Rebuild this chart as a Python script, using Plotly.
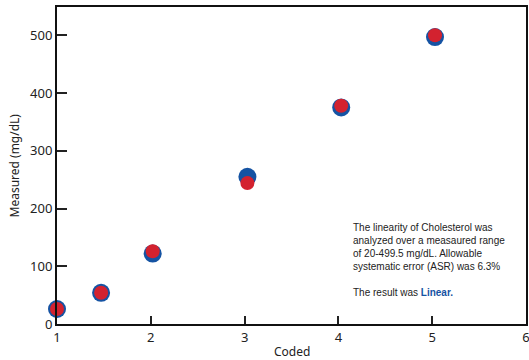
import plotly.graph_objects as go

coded = [1.0, 1.47, 2.02, 3.03, 4.03, 5.03]
expected = [26, 54, 122, 255, 375, 497]
measured = [26, 54, 126, 244, 378, 500]

blue = "#1553a3"
red = "#d3222f"

fig = go.Figure()
fig.add_trace(go.Scatter(x=coded, y=expected, mode="markers",
                         marker=dict(size=18, color=blue), showlegend=False, cliponaxis=False))
fig.add_trace(go.Scatter(x=coded, y=measured, mode="markers",
                         marker=dict(size=14, color=red), showlegend=False, cliponaxis=False))

note = ("The linearity of Cholesterol was<br>analyzed over a measaured range<br>"
        "of 20-499.5 mg/dL. Allowable<br>systematic error (ASR) was 6.3%<br><br>"
        "The result was <b><span style='color:" + blue + "'>Linear.</span></b>")
fig.add_annotation(x=0.626, y=0.327, xref="paper", yref="paper", xanchor="left", yanchor="top",
                   text=note, showarrow=False, align="left",
                   font=dict(family="Liberation Sans Narrow, Liberation Sans", size=10, color="#222"))

# axis titles
fig.add_annotation(x=0.5, y=0, xref="paper", yref="paper", yshift=-17, text="Coded", showarrow=False,
                   xanchor="center", yanchor="top", font=dict(size=12))
fig.add_annotation(x=0, y=0.5, xref="paper", yref="paper", xshift=-43, text="Measured (mg/dL)",
                   showarrow=False, textangle=-90, xanchor="center", yanchor="middle", font=dict(size=12))

fig.update_layout(
    width=529, height=360,
    margin=dict(l=57, r=3, t=7, b=36),
    plot_bgcolor="white", paper_bgcolor="white",
    font=dict(family="Noto Sans", color="#222", size=12),
    xaxis=dict(range=[1, 6], tickvals=[1, 2, 3, 4, 5, 6], ticks="inside", ticklen=8, tickwidth=1.5,
               tickcolor="#222", showline=True, linecolor="#111", linewidth=2, mirror=True,
               showgrid=False, zeroline=False, tickfont=dict(size=13), automargin=False,
               ticklabeloverflow="allow"),
    yaxis=dict(range=[0, 549], tickvals=[0, 100, 200, 300, 400, 500], ticks="inside", ticklen=10,
               tickwidth=1.5, tickcolor="#222", showline=True, linecolor="#111", linewidth=2, mirror=True,
               showgrid=False, zeroline=False, tickfont=dict(size=13), automargin=False),
)
fig.write_html("out.html", config={"displayModeBar": False},
               post_script="document.body.style.margin='0';")
